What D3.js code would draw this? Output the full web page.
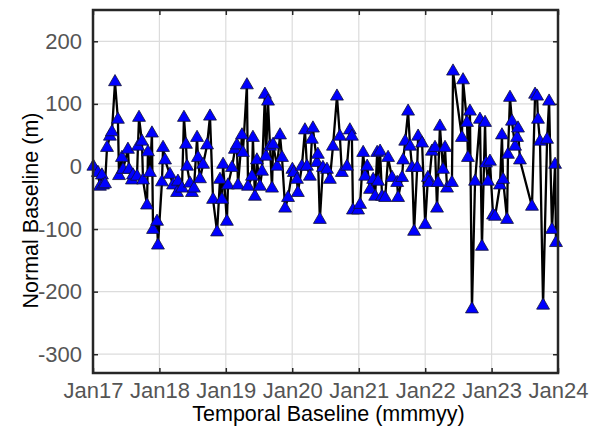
<!DOCTYPE html>
<html>
<head>
<meta charset="utf-8">
<script src="https://cdn.jsdelivr.net/npm/d3@7/dist/d3.min.js"></script>
<style>
  html, body { margin: 0; padding: 0; background: #fff; }
  svg { display: block; font-family: "Liberation Sans", Arial, sans-serif; }
</style>
</head>
<body>
<svg id="chart" width="600" height="427"></svg>
<script>
const dates = [
  "2017-01-03","2017-01-28","2017-02-08","2017-02-19","2017-02-25","2017-03-08","2017-03-19","2017-04-04","2017-04-15","2017-05-02",
  "2017-05-18","2017-05-24","2017-06-09","2017-06-15","2017-07-12","2017-07-18","2017-08-03","2017-08-09","2017-08-31","2017-09-05",
  "2017-09-11","2017-09-27","2017-10-03","2017-10-25","2017-10-30","2017-11-10","2017-11-21","2017-11-27","2017-12-19","2017-12-24",
  "2018-01-15","2018-01-21","2018-02-01","2018-02-28","2018-03-17","2018-04-08","2018-04-13","2018-05-05","2018-05-16","2018-05-27",
  "2018-06-02","2018-06-18","2018-06-29","2018-07-10","2018-07-27","2018-08-01","2018-08-12","2018-08-29","2018-09-20","2018-10-06",
  "2018-10-23","2018-11-14","2018-11-30","2018-12-11","2018-12-17",
  "2019-01-07","2019-01-13","2019-02-04","2019-02-20","2019-03-03","2019-03-09","2019-03-31","2019-04-05","2019-04-27","2019-05-03",
  "2019-05-25","2019-05-30","2019-06-10","2019-06-21","2019-07-08","2019-07-19","2019-08-04","2019-08-10","2019-08-21","2019-09-01",
  "2019-09-12","2019-09-18","2019-10-10","2019-10-26","2019-11-06","2019-11-23","2019-12-09",
  "2020-01-02","2020-01-10","2020-01-27","2020-02-01","2020-02-23","2020-03-11","2020-03-22","2020-04-07","2020-04-18","2020-04-24",
  "2020-05-16","2020-05-21","2020-06-01","2020-06-18","2020-07-10","2020-07-26","2020-08-12","2020-09-03","2020-09-19","2020-09-30",
  "2020-10-28","2020-11-13","2020-11-24","2020-11-30","2020-12-28",
  "2021-01-08","2021-01-25","2021-02-05","2021-02-16","2021-03-04","2021-03-21","2021-04-01","2021-04-12","2021-04-17","2021-04-28",
  "2021-05-09","2021-05-26","2021-06-11","2021-07-03","2021-07-31","2021-08-05","2021-08-27","2021-09-02","2021-09-13","2021-09-29",
  "2021-10-10","2021-10-21","2021-11-01","2021-11-18","2021-11-23","2021-12-15",
  "2022-01-01","2022-01-16","2022-01-22","2022-02-07","2022-02-24","2022-03-07","2022-03-12","2022-03-23","2022-04-09","2022-04-20",
  "2022-05-01","2022-05-28","2022-06-03","2022-07-22","2022-07-28","2022-08-19","2022-08-24","2022-09-04","2022-09-15","2022-10-02",
  "2022-10-29","2022-11-09","2022-11-26","2022-12-01","2022-12-12","2022-12-23",
  "2023-01-09","2023-01-20","2023-02-16","2023-02-27","2023-03-05","2023-03-27","2023-04-01","2023-04-12","2023-04-23","2023-05-10",
  "2023-05-21","2023-05-26","2023-06-06","2023-08-11","2023-08-28","2023-09-08","2023-09-13","2023-09-24","2023-10-11","2023-11-02",
  "2023-11-13","2023-11-29","2023-12-16","2023-12-21"
];
const baselines = [
  0,-10,-32,-14,-30,-28,30,48,55,135,
  75,-15,14,-5,27,-5,-22,-14,-16,32,
  78,40,-22,-62,23,-10,53,-101,-88,-126,
  -25,30,10,-13,-30,-42,-24,-35,78,35,
  0,-27,-42,-35,46,14,-20,3,34,80,
  -53,-105,-21,-53,3,
  -88,-30,-2,27,34,-30,50,22,130,-32,
  -16,46,-48,10,-32,-8,115,16,104,32,
  -35,35,0,50,14,-67,-50,
  -5,-10,-21,-42,0,58,0,-16,43,61,
  6,19,-85,-2,-5,-21,32,112,48,-10,
  0,58,48,-70,-70,
  -61,22,-16,0,-37,-21,-48,22,-24,24,
  -48,-50,14,-18,-26,-50,-18,10,40,88,
  32,-2,-104,-2,48,37,
  -93,-18,-26,24,30,-67,-26,64,-5,30,
  -35,-26,152,46,138,70,14,88,-228,-24,
  75,-128,70,5,-24,8,
  -78,-80,-30,50,-21,-85,19,110,72,32,
  46,61,10,-64,115,112,75,40,-222,43,
  104,-101,3,-122
];
const yTicks = [-300, -200, -100, 0, 100, 200];
const xTickYears = [2017, 2018, 2019, 2020, 2021, 2022, 2023, 2024];
const xLabel = "Temporal Baseline (mmmyy)";
const yLabel = "Normal Baseline (m)";

const parse = d3.timeParse("%Y-%m-%d");
const data = dates.map((d, i) => ({ date: parse(d), value: baselines[i] }));

const margin = { left: 93, top: 10, right: 42, bottom: 54 };
const W = 600, H = 427;
const svg = d3.select("#chart");
const iw = W - margin.left - margin.right;
const ih = H - margin.top - margin.bottom;

const x = d3.scaleTime()
  .domain([new Date(2017, 0, 1), new Date(2024, 0, 1)])
  .range([margin.left, margin.left + iw]);
const y = d3.scaleLinear()
  .domain([-330, 250])
  .range([margin.top + ih, margin.top]);

const xTicks = xTickYears.map(yr => new Date(yr, 0, 1));
const fmt = d3.timeFormat("%b%y");
const yFmt = d => String(d); // plain hyphen-minus like the reference

// grid
const grid = svg.append("g").attr("stroke", "#dcdcdc").attr("stroke-width", 1.2);
grid.selectAll("line.v").data(xTicks).join("line")
  .attr("x1", d => x(d)).attr("x2", d => x(d))
  .attr("y1", margin.top).attr("y2", margin.top + ih);
grid.selectAll("line.h").data(yTicks).join("line")
  .attr("y1", d => y(d)).attr("y2", d => y(d))
  .attr("x1", margin.left).attr("x2", margin.left + iw);

// axes (inward ticks)
const xAxis = svg.append("g")
  .attr("transform", `translate(0,${margin.top + ih})`)
  .call(d3.axisBottom(x).tickValues(xTicks).tickFormat(fmt).tickSizeInner(-5).tickSizeOuter(0).tickPadding(9));
const yAxis = svg.append("g")
  .attr("transform", `translate(${margin.left},0)`)
  .call(d3.axisLeft(y).tickValues(yTicks).tickFormat(yFmt).tickSizeInner(-5).tickSizeOuter(0).tickPadding(11));
const xTop = svg.append("g")
  .attr("transform", `translate(0,${margin.top})`)
  .call(d3.axisTop(x).tickValues(xTicks).tickFormat("").tickSizeInner(-5).tickSizeOuter(0));
const yRight = svg.append("g")
  .attr("transform", `translate(${margin.left + iw},0)`)
  .call(d3.axisRight(y).tickValues(yTicks).tickFormat("").tickSizeInner(-5).tickSizeOuter(0));

[xAxis, yAxis, xTop, yRight].forEach(g => {
  g.select(".domain").remove();
  g.selectAll(".tick line").attr("stroke", "#262626").attr("stroke-width", 1.5);
  g.selectAll(".tick text").attr("fill", "#555").attr("font-size", 22)
    .attr("font-family", "'Liberation Sans', Arial, sans-serif");
});

// line
const line = d3.line().x(d => x(d.date)).y(d => y(d.value));
svg.append("path").datum(data)
  .attr("fill", "none").attr("stroke", "#000").attr("stroke-width", 2.3)
  .attr("stroke-linejoin", "round")
  .attr("d", line);

// triangle markers
const tri = d3.symbol().type(d3.symbolTriangle).size(72);
svg.append("g").selectAll("path").data(data).join("path")
  .attr("transform", d => `translate(${x(d.date)},${y(d.value)})`)
  .attr("d", tri)
  .attr("fill", "#0000ff").attr("stroke", "#111133").attr("stroke-width", 0.8);

// box
svg.append("rect")
  .attr("x", margin.left).attr("y", margin.top)
  .attr("width", iw).attr("height", ih)
  .attr("fill", "none").attr("stroke", "#262626").attr("stroke-width", 2.5);

// labels
svg.append("text")
  .attr("x", margin.left + iw / 2 + 3).attr("y", 421)
  .attr("text-anchor", "middle").attr("font-size", 21.5).attr("fill", "#000")
  .text(xLabel);
svg.append("text")
  .attr("transform", `translate(38,${margin.top + ih / 2 + 19}) rotate(-90)`)
  .attr("text-anchor", "middle").attr("font-size", 21.5).attr("fill", "#000")
  .text(yLabel);
</script>
</body>
</html>
